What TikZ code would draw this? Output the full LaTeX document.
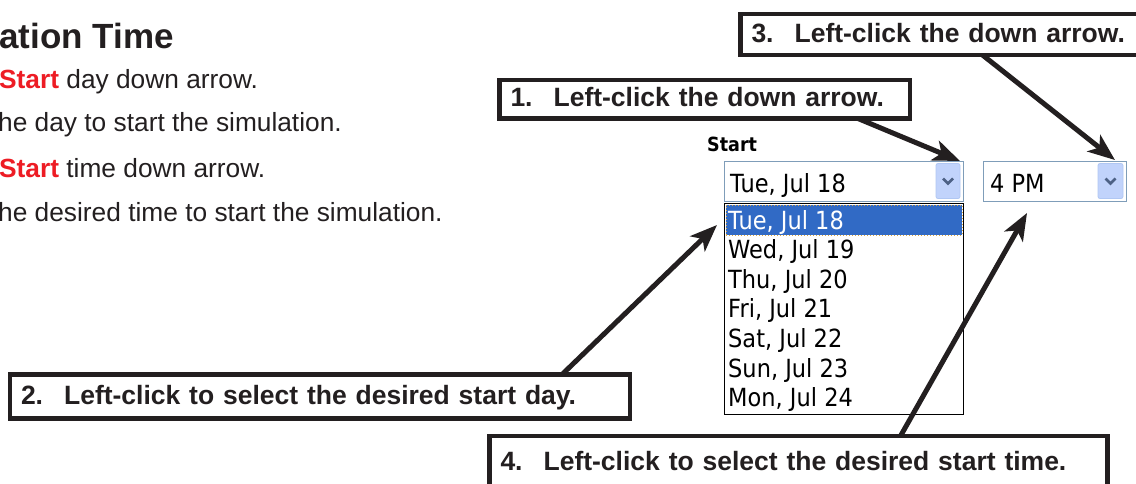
\documentclass[tikz,border=0pt]{standalone}
\usepackage{fontspec}
\setmainfont{Liberation Sans}
\newfontfamily\uifont[FakeStretch=0.9]{DejaVu Sans}
\usetikzlibrary{arrows.meta,calc}
\definecolor{ink}{HTML}{231F20}
\definecolor{redtx}{HTML}{ED1C24}
\definecolor{combob}{HTML}{7F9DB9}
\definecolor{btnfill}{HTML}{C1D3FB}
\definecolor{btnline}{HTML}{B0C7F3}
\definecolor{chev}{HTML}{4D6185}
\definecolor{selblue}{HTML}{316AC5}
\definecolor{focus}{HTML}{D9A441}
\begin{document}
\begin{tikzpicture}[x=1pt,y=-1pt,
  body/.style={anchor=base west, inner sep=0pt, text=ink, font=\fontsize{26.3}{30}\selectfont},
  callout/.style={draw=ink, line width=4.5pt, fill=white, outer sep=0pt,
    font=\fontsize{26.5}{30}\selectfont\bfseries, text=ink, inner xsep=11pt, inner ysep=0pt,
    align=left, text height=19pt, text depth=4pt, anchor=north west},
  arr/.style={draw=ink, line width=5pt, -{Stealth[length=27pt,width=21pt,inset=7pt]}},
  combo/.style={draw=combob, line width=1pt, fill=white, outer sep=0pt, inner sep=0pt, anchor=north west},
  btn/.style={draw=btnline, fill=btnfill, line width=0.8pt, rounded corners=2pt, outer sep=0pt, inner sep=0pt, anchor=north west},
  chevron/.style={draw=chev, line width=2.6pt},
  uitext/.style={anchor=base west, inner sep=0pt, text=black, font=\uifont\fontsize{25}{25}\selectfont}
]
\useasboundingbox (0,0) rectangle (1136,483);
\clip (0,0) rectangle (1136,483);

% left text
\node[body, font=\fontsize{35}{40}\selectfont\bfseries] (title) at (-1,48) {ation Time};
\node[body] (l1) at (-1,88.3) {\textcolor{redtx}{\bfseries Start} day down arrow.};
\node[body] (l2) at (-2,131.7) {he day to start the simulation.};
\node[body] (l3) at (-1,177) {\textcolor{redtx}{\bfseries Start} time down arrow.};
\node[body] (l4) at (-2,221.5) {he desired time to start the simulation.};

% UI
\node[anchor=base west, inner sep=0pt, text=black, font=\uifont\bfseries\fontsize{19.5}{19.5}\selectfont] (startlbl) at (707,151) {Start};

\node[combo, minimum width=239pt, minimum height=40pt] (cb1) at (724.5,161) {};
\node[btn, minimum width=24pt, minimum height=35pt] (btn1) at (936,163.5) {};
\draw[chevron] ($(btn1.center)+(-5,-2.5)$) -- ++(5,5) -- ++(5,-5);
\node[uitext] (cv1) at (730,192) {Tue, Jul 18};

\node[combo, minimum width=143pt, minimum height=40pt] (cb2) at (983.5,161) {};
\node[btn, minimum width=25pt, minimum height=35pt] (btn2) at (1098,163.5) {};
\draw[chevron] ($(btn2.center)+(-5,-2.5)$) -- ++(5,5) -- ++(5,-5);
\node[uitext] (cv2) at (990,192) {4 PM};

\node[combo, draw=black, minimum width=239pt, minimum height=211pt] (lst) at (724.5,203) {};
\node[anchor=north west, fill=selblue, draw=focus, dotted, line width=1pt, outer sep=0pt, inner sep=0pt,
      minimum width=236pt, minimum height=30pt] (sel) at (726,205) {};
\node[uitext, text=white] (it1) at (728,229) {Tue, Jul 18};
\node[uitext] (it2) at (728,258.6) {Wed, Jul 19};
\node[uitext] (it3) at (728,288.2) {Thu, Jul 20};
\node[uitext] (it4) at (728,317.8) {Fri, Jul 21};
\node[uitext] (it5) at (728,347.4) {Sat, Jul 22};
\node[uitext] (it6) at (728,377) {Sun, Jul 23};
\node[uitext] (it7) at (728,406.6) {Mon, Jul 24};

% callouts
\node[callout, text width=388.5pt, minimum height=38.5pt] (b1) at (499.5,80) {1.\hspace*{21pt}Left-click the down arrow.};
\node[callout, text width=398pt, minimum height=41pt] (b3) at (740.5,14) {3.\hspace*{21pt}Left-click the down arrow.};
\node[callout, text width=598pt, minimum height=44pt] (b2) at (10,374.5) {2.\hspace*{21pt}Left-click to select the desired start day.};
\node[callout, text width=596pt, minimum height=53pt] (b4) at (489.5,436) {4.\hspace*{21pt}Left-click to select the desired start time.};

% arrow endpoints
\coordinate (s1) at ($(b1.south west)+(358.5,0)$);
\coordinate (s3) at ($(b3.south west)+(242,0)$);
\coordinate (s2) at ($(b2.north west)+(552,0)$);
\coordinate (s4) at ($(b4.north west)+(411,0)$);
\coordinate (t1) at (960,161);
\coordinate (t3) at (1115,160);
\coordinate (t2) at (717,225);
\coordinate (t4) at (1027,213);

\draw[arr] (s1) -- (t1);
\draw[arr] (s3) -- (t3);
\draw[arr] (s2) -- (t2);
\draw[arr] (s4) -- (t4);
\end{tikzpicture}
\end{document}
